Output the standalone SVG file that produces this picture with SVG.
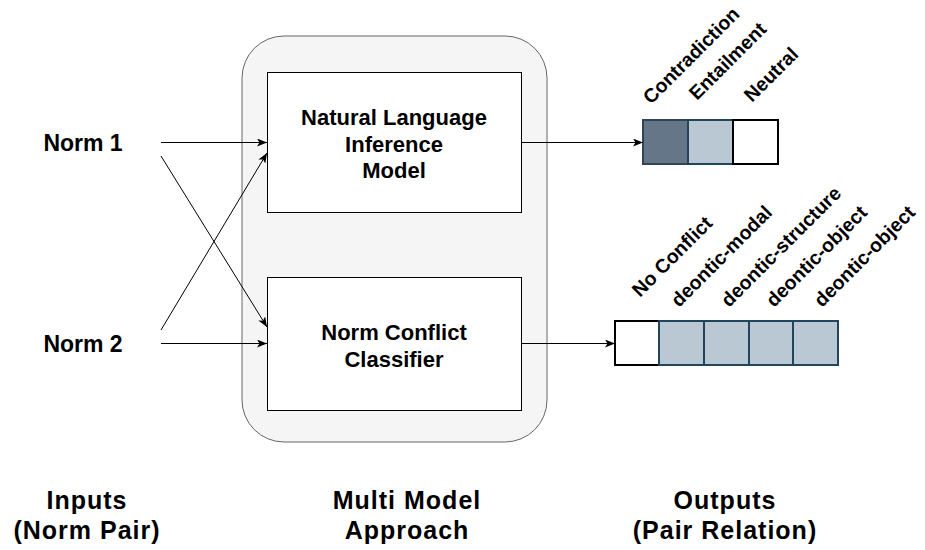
<svg xmlns="http://www.w3.org/2000/svg" width="925" height="550" viewBox="0 0 925 550">
<defs>
<style>
.t{font-family:"Liberation Sans",Arial,Helvetica,sans-serif;font-weight:bold;fill:#000}
.r{font-size:19.5px}
.box{fill:#ffffff;stroke:#000000;stroke-width:1}
.edge{fill:none;stroke:#000000;stroke-width:1}
.dark{fill:#647687;stroke:#314354;stroke-width:2}
.light{fill:#bac8d3;stroke:#23445d;stroke-width:2}
.white{fill:#ffffff;stroke:#000000;stroke-width:2}
</style>
<marker id="arr" viewBox="0 0 10 8" refX="10" refY="4" markerWidth="10" markerHeight="8" markerUnits="userSpaceOnUse" orient="auto">
<path d="M0,0 L10,4 L0,8 L2.5,4 Z" fill="#000"/>
</marker>
</defs>
<rect width="925" height="550" fill="#ffffff"/>

<g id="container">
<rect x="242" y="36" width="305" height="406" rx="42" ry="42" fill="#f5f5f5" stroke="#666666" stroke-width="1"/>
</g>

<g id="nli">
<rect class="box" x="267.5" y="72.5" width="254" height="140"/>
<text class="t" font-size="22" text-anchor="middle" x="394" y="125">Natural Language</text>
<text class="t" font-size="22" text-anchor="middle" x="394" y="152">Inference</text>
<text class="t" font-size="22" text-anchor="middle" x="394" y="178">Model</text>
</g>

<g id="ncc">
<rect class="box" x="267.5" y="277.5" width="254" height="133"/>
<text class="t" font-size="22" text-anchor="middle" x="394" y="340">Norm Conflict</text>
<text class="t" font-size="22" text-anchor="middle" x="394" y="367">Classifier</text>
</g>

<g id="norm1">
<text class="t" font-size="23" text-anchor="middle" x="83" y="151">Norm 1</text>
</g>
<g id="norm2">
<text class="t" font-size="23" text-anchor="middle" x="83" y="352">Norm 2</text>
</g>

<g id="nli-output">
<rect class="dark" x="643" y="120" width="45" height="44"/>
<rect class="light" x="688" y="120" width="45" height="44"/>
<rect class="white" x="733" y="120" width="45" height="44"/>
<text class="t r" transform="translate(651,105) rotate(-45)">Contradiction</text>
<text class="t r" transform="translate(697,101) rotate(-45)">Entailment</text>
<text class="t r" transform="translate(752,103) rotate(-45)">Neutral</text>
</g>

<g id="ncc-output">
<rect class="white" x="615" y="321" width="44" height="44"/>
<rect class="light" x="659" y="321" width="45" height="44"/>
<rect class="light" x="704" y="321" width="45" height="44"/>
<rect class="light" x="749" y="321" width="44" height="44"/>
<rect class="light" x="793" y="321" width="45" height="44"/>
<text class="t r" transform="translate(640,298) rotate(-45)">No Conflict</text>
<text class="t r" transform="translate(679,308) rotate(-45)">deontic-modal</text>
<text class="t r" transform="translate(729,308) rotate(-45)">deontic-structure</text>
<text class="t r" transform="translate(774,308) rotate(-45)">deontic-object</text>
<text class="t r" transform="translate(822,308) rotate(-45)">deontic-object</text>
</g>

<g id="connectors">
<line class="edge" x1="161" y1="142.5" x2="267" y2="142.5" marker-end="url(#arr)"/>
<line class="edge" x1="161" y1="156" x2="267" y2="327" marker-end="url(#arr)"/>
<line class="edge" x1="161" y1="330" x2="267" y2="153" marker-end="url(#arr)"/>
<line class="edge" x1="161" y1="343.5" x2="267" y2="343.5" marker-end="url(#arr)"/>
<line class="edge" x1="521.5" y1="142.5" x2="643" y2="142.5" marker-end="url(#arr)"/>
<line class="edge" x1="521.5" y1="343.5" x2="615" y2="343.5" marker-end="url(#arr)"/>
</g>

<g id="label-inputs">
<text class="t" font-size="25" letter-spacing="1" text-anchor="middle" x="87" y="509">Inputs</text>
<text class="t" font-size="25" letter-spacing="1" text-anchor="middle" x="87" y="539">(Norm Pair)</text>
</g>
<g id="label-approach">
<text class="t" font-size="25" letter-spacing="1" text-anchor="middle" x="407" y="509">Multi Model</text>
<text class="t" font-size="25" letter-spacing="1" text-anchor="middle" x="407" y="539">Approach</text>
</g>
<g id="label-outputs">
<text class="t" font-size="25" letter-spacing="1" text-anchor="middle" x="725" y="509">Outputs</text>
<text class="t" font-size="25" letter-spacing="1" text-anchor="middle" x="725" y="539">(Pair Relation)</text>
</g>
</svg>
